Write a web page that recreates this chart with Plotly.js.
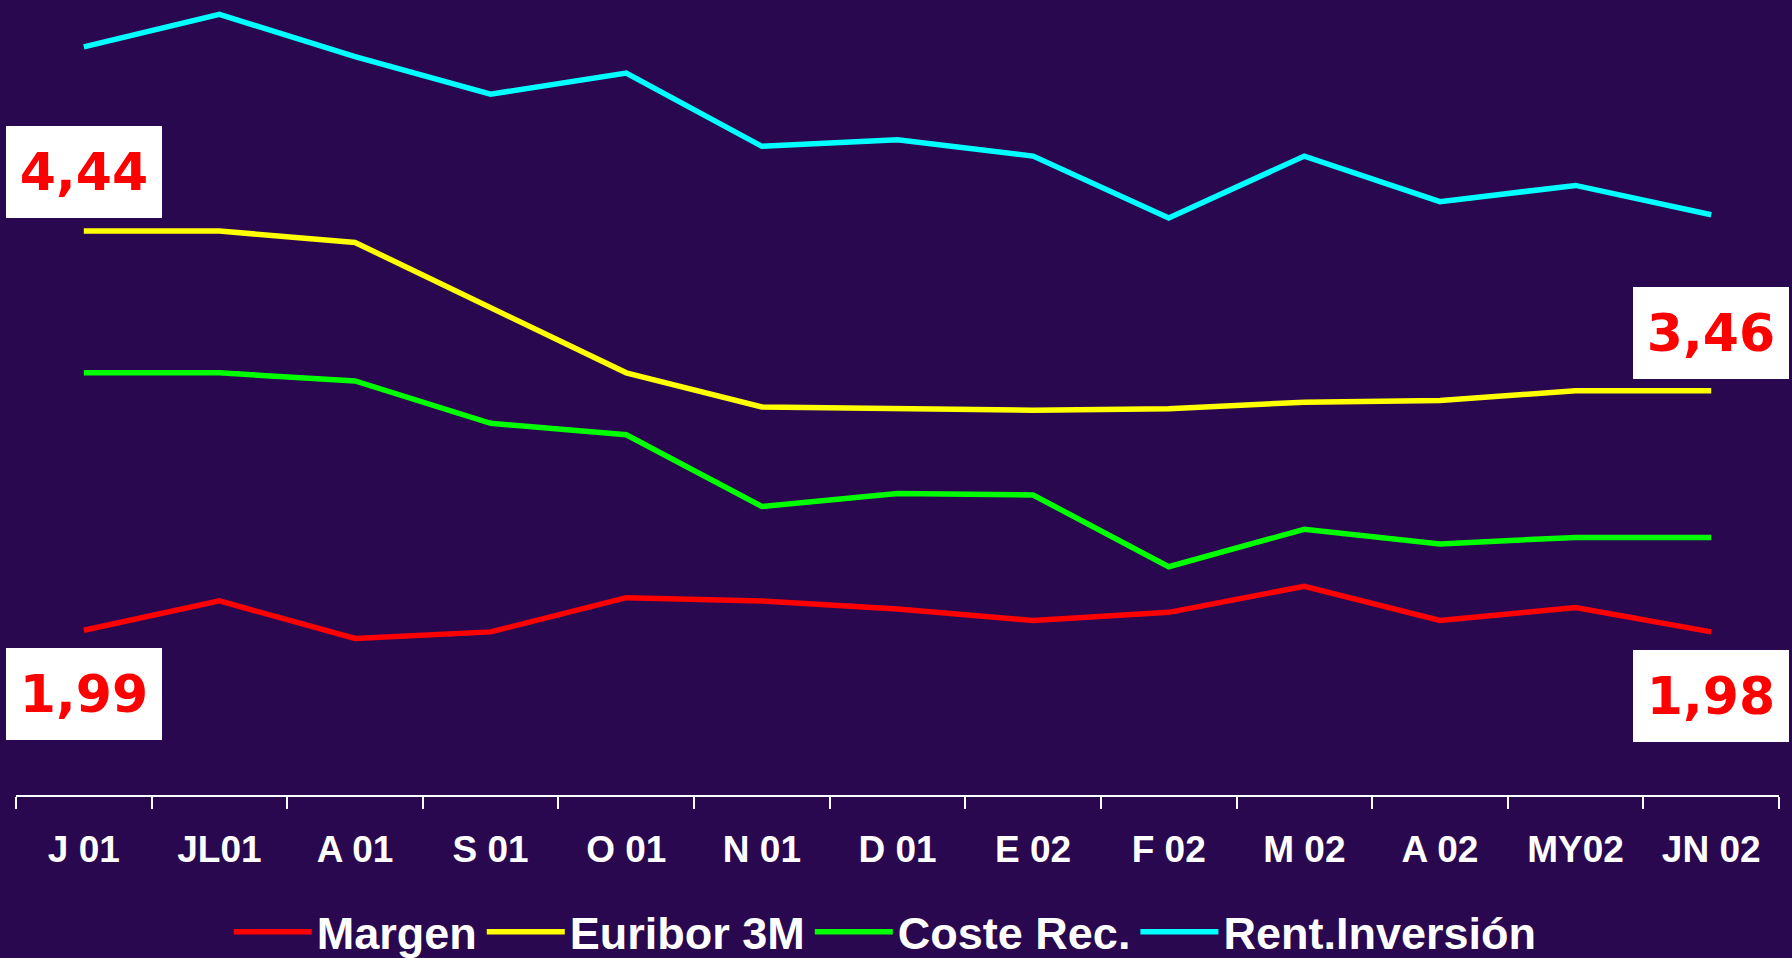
<!DOCTYPE html>
<html>
<head>
<meta charset="utf-8">
<script src="https://cdn.plot.ly/plotly-3.0.1.min.js"></script>
<style>
  html, body { margin: 0; padding: 0; background: #2a0850; }
  #chart { width: 1792px; height: 958px; }
</style>
</head>
<body>
<div id="chart"></div>
<script>
const months = ["J 01", "JL01", "A 01", "S 01", "O 01", "N 01", "D 01", "E 02", "F 02", "M 02", "A 02", "MY02", "JN 02"];
const margen = [1.99, 2.17, 1.94, 1.98, 2.19, 2.17, 2.12, 2.05, 2.10, 2.26, 2.05, 2.13, 1.98];
const euribor3M = [4.44, 4.44, 4.37, 3.97, 3.57, 3.36, 3.35, 3.34, 3.35, 3.39, 3.40, 3.46, 3.46];
const costeRec = [3.57, 3.57, 3.52, 3.26, 3.19, 2.75, 2.83, 2.82, 2.38, 2.61, 2.52, 2.56, 2.56];
const rentInversion = [5.57, 5.77, 5.51, 5.28, 5.41, 4.96, 5.00, 4.90, 4.52, 4.90, 4.62, 4.72, 4.54];

const seriesNames = ["Margen", "Euribor 3M", "Coste Rec.", "Rent.Inversión"];
const seriesColors = ["#ff0000", "#ffff00", "#00ff00", "#00ffff"];
const seriesValues = [margen, euribor3M, costeRec, rentInversion];

const traces = seriesValues.map((vals, i) => ({
  type: "scatter",
  mode: "lines",
  x: months,
  y: vals,
  name: seriesNames[i],
  line: { color: seriesColors[i], width: 5.5 },
  hoverinfo: "x+y+name"
}));

const fmt = v => v.toFixed(2).replace(".", ",");
const last = months.length - 1;
const labelSpecs = [
  { x: months[0], y: euribor3M[0], shift: 59 },
  { x: months[last], y: euribor3M[last], shift: 58 },
  { x: months[0], y: margen[0], shift: -64 },
  { x: months[last], y: margen[last], shift: -64 }
];
const annotations = labelSpecs.map(s => ({
  x: s.x, y: s.y, xref: "x", yref: "y",
  text: fmt(s.y),
  showarrow: false,
  yshift: s.shift,
  width: 156, height: 92,
  bgcolor: "#ffffff",
  borderwidth: 0, borderpad: 0,
  align: "center", valign: "middle",
  font: { family: "DejaVu Sans, Verdana, sans-serif", size: 52, color: "#ff0000", weight: "bold" }
}));

const layout = {
  width: 1792, height: 958,
  paper_bgcolor: "#2a0850",
  plot_bgcolor: "#2a0850",
  margin: { l: 16, r: 13, t: 0, b: 163, pad: 0, autoexpand: false },
  showlegend: true,
  legend: {
    orientation: "h",
    xref: "container", yref: "container",
    x: 0.494, xanchor: "center",
    y: 1 - 932 / 958, yanchor: "middle",
    font: { family: "Liberation Sans, Arial, sans-serif", size: 45, color: "#ffffff", weight: "bold" },
    bgcolor: "rgba(0,0,0,0)",
    borderwidth: 0,
    itemwidth: 78,
    tracegroupgap: 0
  },
  xaxis: {
    type: "category",
    range: [-0.5, 12.5],
    showline: true, linecolor: "#ffffff", linewidth: 2,
    ticks: "outside", tickson: "boundaries", ticklen: 12, tickcolor: "#ffffff", tickwidth: 2,
    showgrid: false, zeroline: false,
    tickfont: { family: "Liberation Sans, Arial, sans-serif", size: 37, color: "#ffffff", weight: "bold" },
    ticklabelstandoff: 21,
    fixedrange: true
  },
  yaxis: {
    range: [0.979, 5.858],
    visible: false,
    showgrid: false, zeroline: false,
    fixedrange: true
  },
  annotations: annotations
};

Plotly.newPlot("chart", traces, layout, { displayModeBar: false, staticPlot: true });
</script>
</body>
</html>
